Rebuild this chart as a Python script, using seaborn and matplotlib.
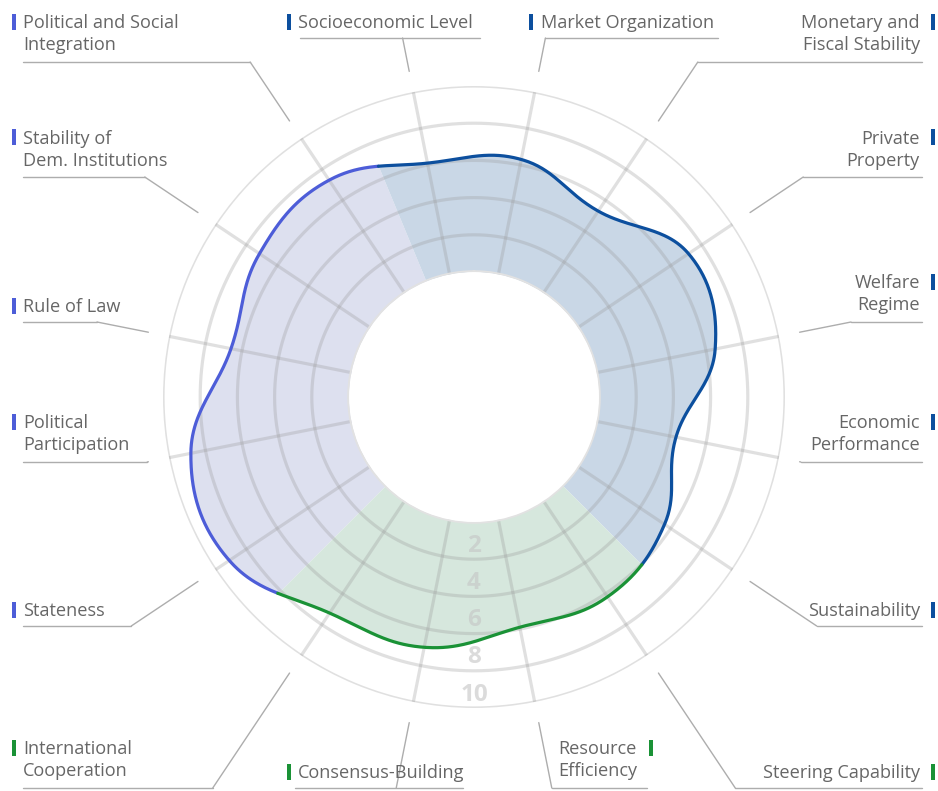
import numpy as np
import pandas as pd
import matplotlib
matplotlib.use("Agg")
import matplotlib.pyplot as plt
import seaborn as sns

# ---------------- data ----------------
categories = ["Stateness", "Political Participation", "Rule of Law",
              "Stability of Dem. Institutions", "Political and Social Integration",
              "Socioeconomic Level", "Market Organization", "Monetary and Fiscal Stability",
              "Private Property", "Welfare Regime", "Economic Performance", "Sustainability",
              "Steering Capability", "Resource Efficiency", "Consensus-Building",
              "International Cooperation"]
label_text = ["Stateness", "Political\nParticipation", "Rule of Law",
              "Stability of\nDem. Institutions", "Political and Social\nIntegration",
              "Socioeconomic Level", "Market Organization", "Monetary and\nFiscal Stability",
              "Private\nProperty", "Welfare\nRegime", "Economic\nPerformance", "Sustainability",
              "Steering Capability", "Resource\nEfficiency", "Consensus-Building",
              "International\nCooperation"]
scores = [9.1, 8.8, 6.6, 7.15, 7.3, 6.1, 6.3, 5.3, 7.15, 6.5, 4.35, 5.6, 6.2, 5.9, 7.0, 7.25]
dimension = ["Political"] * 5 + ["Economic"] * 7 + ["Governance"] * 4
ring_ticks = [2, 4, 6, 8, 10]

# ---------------- style ----------------
line_col = {"Political": "#4d5dd8", "Economic": "#0c4f9e", "Governance": "#1a9236"}
fill_col = {"Political": "#dde0ef", "Economic": "#c9d7e6", "Governance": "#d6e7dd"}

sns.set_theme(style="white")
plt.rcParams["font.family"] = ["Open Sans", "DejaVu Sans"]

W, H, DPI = 938, 791, 100
CX, CY, R_OUT = 474, 397, 311
HOLE = 125 / 311
RMAX = 10.0
R0 = -RMAX * HOLE / (1 - HOLE)

fig = plt.figure(figsize=(W / DPI, H / DPI), dpi=DPI)
fig.patch.set_facecolor("white")

# overlay axes in pixel coordinates for labels / leader lines
lay = fig.add_axes([0, 0, 1, 1])
lay.set_xlim(0, W)
lay.set_ylim(H, 0)
lay.axis("off")

ax = fig.add_axes([(CX - R_OUT) / W, (H - CY - R_OUT) / H, 2 * R_OUT / W, 2 * R_OUT / H],
                  projection="polar")
ax.set_facecolor("none")
ax.set_theta_zero_location("N")
ax.set_theta_direction(-1)
ax.set_rorigin(R0)
ax.set_ylim(0, RMAX)
ax.grid(False)
ax.set_xticks([])
ax.set_yticks([])
for s in ax.spines.values():
    s.set_edgecolor("none")
    s.set_linewidth(0)
    s.set_visible(False)

n = len(categories)
step = 2 * np.pi / n
theta = np.deg2rad(236.25) + step * np.arange(n)

df = pd.DataFrame({"category": categories, "score": scores, "dimension": dimension,
                   "theta": theta})

# smooth closed curve (cubic Bezier in cartesian space)
e = df["score"].to_numpy() - R0
P = np.column_stack([e * np.sin(theta), e * np.cos(theta)])
k = 0.2
pts = []
t = np.linspace(0, 1, 80, endpoint=False)[:, None]
for i in range(n):
    p0, p1 = P[i], P[(i + 1) % n]
    c1 = p0 + (P[(i + 1) % n] - P[(i - 1) % n]) * k
    c2 = p1 - (P[(i + 2) % n] - P[i]) * k
    seg = (1 - t) ** 3 * p0 + 3 * (1 - t) ** 2 * t * c1 + 3 * (1 - t) * t ** 2 * c2 + t ** 3 * p1
    pts.append(seg)
pts = np.vstack(pts)
ct = np.mod(np.arctan2(pts[:, 0], pts[:, 1]), 2 * np.pi)
cr = np.hypot(pts[:, 0], pts[:, 1]) + R0
order = np.argsort(ct)
ct, cr = ct[order], cr[order]

def curve_r(th):
    return np.interp(np.mod(th, 2 * np.pi), ct, cr, period=2 * np.pi)

# sectors
for dim in ["Political", "Economic", "Governance"]:
    idx = np.where(df["dimension"] == dim)[0]
    a0 = theta[idx[0]] - step / 2
    a1 = theta[idx[-1]] + step / 2
    tg = np.linspace(a0, a1, 400)
    rg = curve_r(tg)
    ax.fill_between(tg, 0, rg, color=fill_col[dim], lw=0, zorder=1)
    seg = pd.DataFrame({"t": tg, "r": rg})
    sns.lineplot(data=seg, x="t", y="r", ax=ax, sort=False, estimator=None,
                 color=line_col[dim], lw=2.3, zorder=5, solid_capstyle="round")
ax.set_xlabel("")
ax.set_ylabel("")

# grid on top of fills
grid_kw = dict(color="#9a9a9a", alpha=0.3, lw=2.3, zorder=3, solid_capstyle="butt")
tt = np.linspace(0, 2 * np.pi, 721)
for rv in ring_ticks:
    ax.plot(tt, np.full_like(tt, rv), **grid_kw)
for th in theta:
    ax.plot([th, th], [0, RMAX], **grid_kw)
ax.plot(tt, np.zeros_like(tt), color="#e2e2e2", lw=2.6, zorder=4)

for rv in ring_ticks:
    ax.text(np.pi, rv - 0.72, str(rv), ha="center", va="center", fontsize=17.5,
            fontweight="bold", color="#c4c4c4", alpha=0.6, zorder=4)
ax.set_ylim(0, RMAX)

# ---------------- labels ----------------
layout = {
    "Stateness": (23, "left", 626, 12, None),
    "Political Participation": (23, "left", 462, 12, None),
    "Rule of Law": (23, "left", 322, 12, None),
    "Stability of Dem. Institutions": (23, "left", 177, 12, None),
    "Political and Social Integration": (23, "left", 62, 12, None),
    "Socioeconomic Level": (298, "left", 38, 287, (300, 480)),
    "Market Organization": (541, "left", 38, 529, (None, 718)),
    "Monetary and Fiscal Stability": (920, "right", 62, 931, None),
    "Private Property": (920, "right", 177, 931, None),
    "Welfare Regime": (920, "right", 322, 931, None),
    "Economic Performance": (920, "right", 462, 931, None),
    "Sustainability": (920, "right", 626, 931, None),
    "Steering Capability": (920, "right", 788, 931, None),
    "Resource Efficiency": (637, "right", 788, 649, (None, 647)),
    "Consensus-Building": (298, "left", 788, 287, (295, 463)),
    "International Cooperation": (23, "left", 788, 12, None),
}
LEAD = "#adadad"
for cat, txt, dim, th in zip(df["category"], label_text, df["dimension"], df["theta"]):
    tx, ha, uy, bx, urange = layout[cat]
    s, c = np.sin(th), np.cos(th)
    rs = 332
    x0, y0 = CX + rs * s, CY - rs * c
    rm = (CY - uy) / c if abs(c) > 1e-6 else rs
    rm = max(rm, rs)
    xm, ym = CX + rm * s, uy
    lay.plot([x0, xm], [y0, ym], color=LEAD, lw=1.0)
    if urange is None:
        ux = (23, xm) if ha == "left" else (xm, 922)
    else:
        ux = (urange[0] if urange[0] is not None else xm, urange[1])
    lay.plot(list(ux), [uy, uy], color=LEAD, lw=1.0)
    lines = txt.split("\n")
    nl = len(lines)
    off = 9.5 if nl == 1 else 11.5
    for j, ln in enumerate(lines):
        yb = uy - off - 22 * (nl - 1 - j)
        lay.text(tx, yb, ln, ha=ha, va="baseline", fontsize=13.1, color="#666666")
    yb0 = uy - off - 22 * (nl - 1)
    lay.add_patch(plt.Rectangle((bx, yb0 - 15), 4, 16, color=line_col[dim], lw=0))

fig.savefig("out.png", dpi=DPI, facecolor="white")
